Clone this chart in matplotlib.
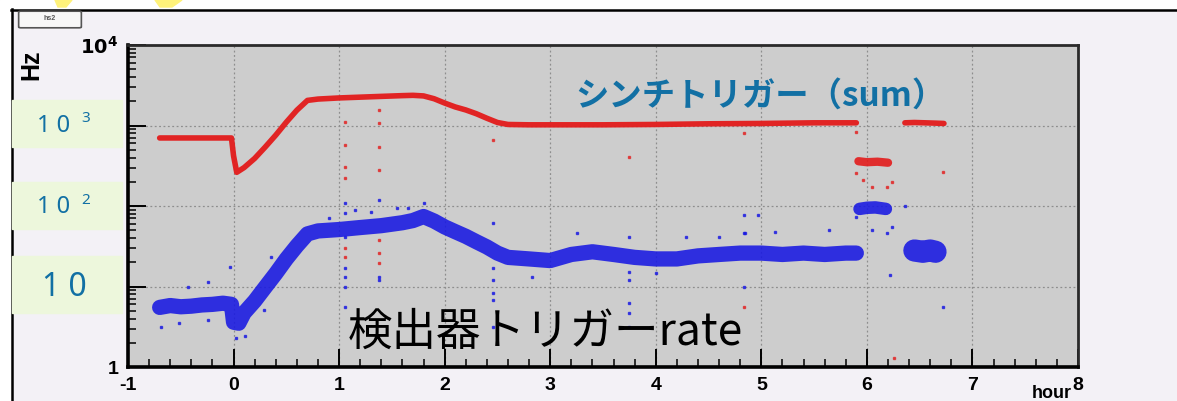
import matplotlib
matplotlib.use('Agg')
import matplotlib.pyplot as plt
from matplotlib.patches import Rectangle, FancyBboxPatch, Polygon
from matplotlib.lines import Line2D
from matplotlib.ticker import MultipleLocator, LogLocator, NullFormatter

plt.rcParams['font.family'] = ['Noto Sans CJK JP', 'DejaVu Sans']
plt.rcParams['axes.unicode_minus'] = False

W, H = 1177, 401

# scintillator trigger (sum) rate, Hz
red_hour = [-0.70, -0.5, -0.3, -0.1, -0.02, 0.0, 0.03, 0.1, 0.2, 0.3, 0.4, 0.5, 0.6, 0.7, 0.8,
            1.0, 1.2, 1.4, 1.6, 1.7, 1.8, 1.9, 2.0, 2.1, 2.2, 2.3, 2.4, 2.5, 2.6, 2.8,
            3.0, 3.5, 4.0, 4.5, 5.0, 5.5, 5.9]
red_rate = [700, 700, 700, 700, 700, 420, 262, 300, 390, 540, 760, 1100, 1550, 2050, 2130,
            2200, 2250, 2300, 2350, 2370, 2330, 2150, 1900, 1700, 1560, 1400, 1230, 1090, 1030, 1020,
            1020, 1020, 1030, 1050, 1060, 1080, 1080]
red_dip_hour = [5.92, 6.00, 6.10, 6.20]
red_dip_rate = [360, 350, 355, 345]
red_tail_hour = [6.36, 6.45, 6.55, 6.65, 6.73]
red_tail_rate = [1080, 1090, 1080, 1070, 1060]
red_stray_hour = [1.06, 1.06, 1.06, 1.06, 1.06, 1.06, 1.38, 1.38, 1.38, 1.38, 1.38, 1.38, 1.38,
                  2.46, 3.75, 4.84, 4.84, 5.90, 5.90, 5.96, 6.05, 6.19, 6.24, 6.72, 6.26]
red_stray_rate = [1110, 570, 305, 220, 30, 23, 1560, 1070, 540, 280, 38, 26, 19.5,
                  660, 405, 800, 5.6, 830, 257, 210, 172, 172, 200, 265, 1.3]

# detector trigger rate, Hz
blue_hour = [-0.70, -0.6, -0.5, -0.4, -0.3, -0.2, -0.1, -0.02, 0.0, 0.05, 0.1, 0.2, 0.3, 0.4,
             0.5, 0.6, 0.7, 0.8, 1.0, 1.2, 1.4, 1.6, 1.7, 1.8, 1.9, 2.0, 2.1, 2.2, 2.3, 2.4,
             2.5, 2.6, 2.8, 3.0, 3.2, 3.4, 3.6, 3.8, 4.0, 4.2, 4.4, 4.6, 4.8, 5.0, 5.2, 5.4,
             5.6, 5.8, 5.9]
blue_rate = [5.5, 5.8, 5.6, 5.7, 5.9, 6.0, 6.2, 6.0, 3.6, 3.5, 4.7, 6.6, 9.8, 14.5,
             22, 32, 45, 49, 51, 54, 57, 62, 66, 74, 65, 55, 48, 42, 36, 31,
             26, 23, 22, 21, 25, 27, 25, 23, 22, 22, 24, 25, 26, 26, 25, 26,
             25, 26, 26]
blue_dip_hour = [5.93, 6.00, 6.08, 6.18]
blue_dip_rate = [92, 95, 96, 92]
blue_tail_hour = [6.45, 6.53, 6.60, 6.65]
blue_tail_rate = [28, 27, 28, 27]
blue_stray_hour = [-0.03, -0.24, -0.43, -0.69, -0.52, -0.24, 0.02, 0.11, 0.35, 0.29,
                   1.06, 1.06, 1.06, 1.06, 1.06, 1.06, 1.06, 1.38, 1.38, 1.38,
                   1.15, 1.55, 1.80, 0.90, 1.30, 1.65,
                   2.46, 2.46, 2.46, 2.46, 2.46, 2.46,
                   3.75, 3.75, 3.75, 3.75, 3.75, 3.75,
                   3.25, 2.83, 4.29, 4.60, 4.00, 4.84, 4.84, 4.84, 4.97, 4.85, 5.13, 5.64,
                   5.90, 6.05, 6.19, 6.24, 6.22, 6.36, 6.72]
blue_stray_rate = [17.5, 11.4, 9.8, 3.1, 3.5, 3.8, 2.3, 2.4, 23, 5.1,
                   109, 82, 41, 17, 13, 9.8, 5.6, 118, 13, 12,
                   89, 94, 109, 70, 85, 95,
                   61, 17, 12, 8.3, 6.8, 3.1,
                   41, 15, 12, 6.2, 4.7, 3.1,
                   46, 13, 41, 41, 14.7, 77, 46, 9.8, 77, 46, 48, 50,
                   73, 50, 46, 55, 14, 100, 5.6]

red = '#e31b1b'
blue = '#1818e2'
label_blue = '#1270a4'

fig = plt.figure(figsize=(W / 100, H / 100), dpi=100)
fig.patch.set_facecolor('#f3f1f6')


def px(x, y):
    return x / W, 1 - y / H


ax = fig.add_axes([128 / W, 1 - 367 / H, 950 / W, 322 / H])
ax.set_facecolor('#cdcdcd')
ax.set_yscale('log')
ax.set_xlim(-1, 8)
ax.set_ylim(1, 1e4)

ax.plot(red_hour, red_rate, color=red, lw=4, alpha=0.95, solid_capstyle='round', zorder=4)
ax.plot(red_dip_hour, red_dip_rate, color=red, lw=6, alpha=0.9, solid_capstyle='round', zorder=4)
ax.plot(red_tail_hour, red_tail_rate, color=red, lw=4, alpha=0.95, solid_capstyle='round', zorder=4)
ax.plot(red_stray_hour, red_stray_rate, 's', color=red, ms=1.8, alpha=0.7, zorder=4)

ax.plot(blue_hour, blue_rate, color=blue, lw=11, alpha=0.88, solid_capstyle='round', zorder=3)
ax.plot(blue_dip_hour, blue_dip_rate, color=blue, lw=9, alpha=0.88, solid_capstyle='round', zorder=3)
ax.plot(blue_tail_hour, blue_tail_rate, color=blue, lw=16, alpha=0.88, solid_capstyle='round', zorder=3)
ax.plot(blue_stray_hour, blue_stray_rate, 's', color=blue, ms=2.0, alpha=0.75, zorder=3)

ax.grid(which='major', linestyle=(0, (1.5, 2)), color='#8e8e8e', lw=0.9)
ax.set_axisbelow(True)

ax.xaxis.set_major_locator(MultipleLocator(1))
ax.xaxis.set_minor_locator(MultipleLocator(0.2))
ax.yaxis.set_major_locator(LogLocator(base=10))
ax.yaxis.set_minor_locator(LogLocator(base=10, subs=range(2, 10)))
ax.yaxis.set_minor_formatter(NullFormatter())
# 10, 10^2, 10^3 sit under the pale boxes on the left
ax.set_yticks([1, 10, 100, 1000, 10000],
              labels=['1', '', '', '', r'$\mathbf{10^{4}}$'])
ax.tick_params(which='both', direction='in', top=False, right=False, color='black')
ax.tick_params(which='major', length=13, width=1.4, pad=7)
ax.tick_params(which='minor', length=6, width=1.1)
for lab in ax.get_xticklabels() + ax.get_yticklabels():
    lab.set_fontfamily('Liberation Sans')
    lab.set_fontweight('bold')
    lab.set_fontsize(14)

for side in ['left', 'bottom']:
    ax.spines[side].set_linewidth(2.6)
    ax.spines[side].set_color('black')
for side in ['top', 'right']:
    ax.spines[side].set_linewidth(2)
    ax.spines[side].set_color('#2a2a2a')

# axis titles
fig.text(*px(31, 65), 'Hz', rotation=90, ha='center', va='center',
         fontsize=18, fontweight='bold', family='Liberation Sans')
fig.text(*px(1052, 394), 'hour', ha='center', va='center',
         fontsize=13, fontweight='bold', family='Liberation Sans')

# outer frame
fig.patches.append(Rectangle(px(0, 9), 1, 9 / H, transform=fig.transFigure,
                             color='white', zorder=0))
fig.patches.append(Rectangle((0, 0), 11 / W, 1, transform=fig.transFigure,
                             color='white', zorder=0))
fig.add_artist(Line2D([11 / W, 1], [1 - 9.5 / H] * 2, color='black', lw=1.8))
fig.add_artist(Line2D([11.5 / W] * 2, [0, 1 - 9 / H], color='black', lw=1.8))
fig.patches.append(Polygon([px(55, 0), px(72, 0), px(66, 7), px(58, 7)], closed=True,
                           transform=fig.transFigure, color='#fff27a', zorder=1))
fig.patches.append(Polygon([px(155, 0), px(182, 0), px(172, 7), px(160, 7)], closed=True,
                           transform=fig.transFigure, color='#fff27a', zorder=1))

# title box
fig.patches.append(FancyBboxPatch(px(21, 27), 58 / W, 15 / H, boxstyle='round,pad=0.002',
                                  transform=fig.transFigure, facecolor='#f7f7f7',
                                  edgecolor='#555555', lw=1.2, zorder=2))
fig.text(*px(50, 18), 'hs2', ha='center', va='center', fontsize=5,
         fontweight='bold', color='#555555', family='Liberation Sans')

# decade labels on pale green boxes
for top, bottom in [(100, 147), (182, 229), (256, 313)]:
    fig.patches.append(Rectangle(px(12, bottom), 110 / W, (bottom - top) / H,
                                 transform=fig.transFigure, color='#edf7dc', zorder=5))
fig.text(*px(54, 126), '1 0', ha='center', va='center', fontsize=17,
         color=label_blue, family='Noto Sans', zorder=6)
fig.text(*px(86, 119), '3', ha='center', va='center', fontsize=11,
         color=label_blue, family='Noto Sans', zorder=6)
fig.text(*px(54, 207), '1 0', ha='center', va='center', fontsize=17,
         color=label_blue, family='Noto Sans', zorder=6)
fig.text(*px(86, 201), '2', ha='center', va='center', fontsize=11,
         color=label_blue, family='Noto Sans', zorder=6)
fig.text(*px(64, 287), '1 0', ha='center', va='center', fontsize=23,
         color=label_blue, family='Noto Sans', zorder=6)

fig.text(*px(760, 96), 'シンチトリガー（sum）', ha='center', va='center', fontsize=24,
         fontweight='bold', color=label_blue, zorder=6)
fig.text(*px(545, 332), '検出器トリガーrate', ha='center', va='center', fontsize=32,
         color='black', zorder=6)

fig.savefig('out.png', dpi=100, facecolor=fig.get_facecolor())
